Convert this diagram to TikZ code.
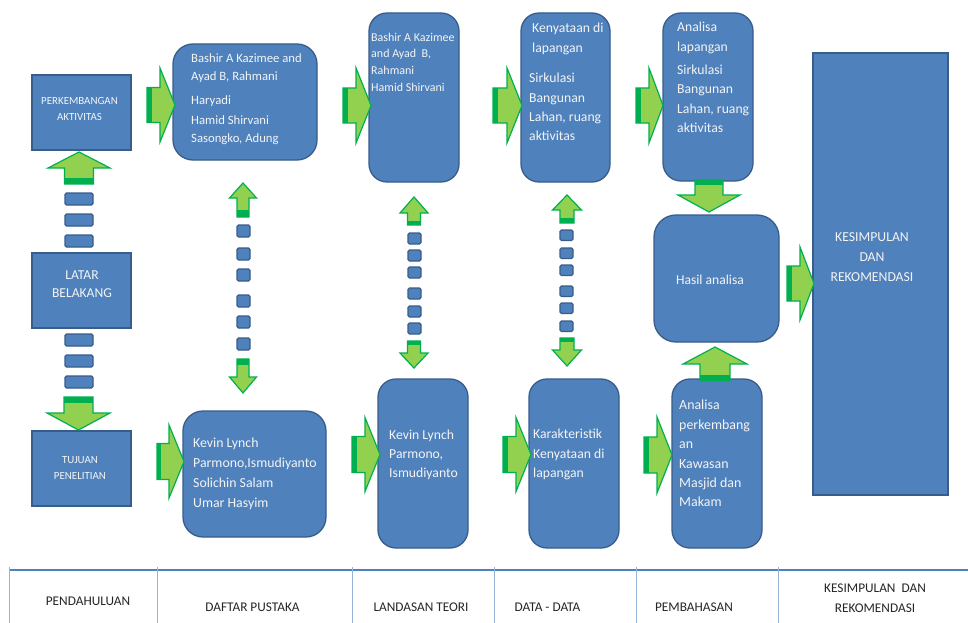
\documentclass[tikz,border=0pt]{standalone}
\usepackage{fontspec}
\setmainfont{Carlito}
\definecolor{boxfill}{HTML}{4F81BD}
\definecolor{boxdraw}{HTML}{385D8A}
\definecolor{gl}{HTML}{92D050}
\definecolor{gd}{HTML}{00B050}
\definecolor{txtw}{HTML}{F4F4F4}
\definecolor{txtd}{HTML}{262626}
\definecolor{hline}{HTML}{4F81BD}
\definecolor{vline}{HTML}{95B3D7}
% block arrow: tail x, tail y, angle, length, head length, head half-width, shaft half-width
\newcommand{\blockarr}[7]{%
  \begin{scope}[shift={(#1,#2)},rotate=#3]
    \filldraw[fill=gl,draw=gd,line width=1.2,line join=miter]
      (0,-#7) -- ({#4-#5},-#7) -- ({#4-#5},-#6) -- (#4,0) -- ({#4-#5},#6) -- ({#4-#5},#7) -- (0,#7) -- cycle;
    \fill[gd] (0,-#7) rectangle ({0.35*(#4-#5)},#7);
  \end{scope}}
\tikzset{
  sqbox/.style={draw=boxdraw,fill=boxfill,line width=1.3,inner sep=0},
  rbox/.style={sqbox,rounded corners=18},
  dashbox/.style={draw=boxdraw,fill=boxfill,line width=1.1,rounded corners=1.5},
  wtxt/.style={text=txtw,inner sep=0,align=left,anchor=north west},
  ctxt/.style={text=txtw,inner sep=0,align=center},
  btxt/.style={text=txtd,inner sep=0,align=center,font=\fontsize{13.3}{20}\selectfont},
}
\begin{document}
\begin{tikzpicture}[x=1pt,y=-1pt]
\useasboundingbox[fill=white] (0,0) rectangle (968,623);

% ---------- column 1
\node[sqbox,minimum width=99,minimum height=75] (perk) at (81.5,112.5) {};
\node[ctxt,font=\fontsize{10.9}{16}\selectfont] (perkT) at (79.5,109) {PERKEMBANGAN\\AKTIVITAS};
\node[sqbox,minimum width=99,minimum height=75] (latar) at (81.5,290.5) {};
\node[ctxt,font=\fontsize{13.6}{18}\selectfont] (latarT) at (82,284) {LATAR\\BELAKANG};
\node[sqbox,minimum width=99,minimum height=75] (tujuan) at (81.5,468.5) {};
\node[ctxt,font=\fontsize{10.9}{16}\selectfont] (tujuanT) at (80,468) {TUJUAN\\PENELITIAN};

\foreach \y in {193,214,235,334,355,376}
  \draw[dashbox] (65,\y) rectangle (93,\y+12);
\blockarr{79}{184}{90}{32}{16}{31}{14.5}
\blockarr{78.5}{397}{-90}{33}{17}{31.5}{14.5}

% ---------- column 2
\node[rbox,rounded corners=20,minimum width=144,minimum height=116] (b2t) at (245,102) {};
\node[wtxt,font=\fontsize{12.7}{18}\selectfont] (b2tT) at (191,53)
  {Bashir A Kazimee and\\Ayad B, Rahmani\\[6pt]Haryadi\\[2.5pt]Hamid Shirvani\\Sasongko, Adung};
\node[rbox,rounded corners=20,minimum width=143,minimum height=126] (b2b) at (254.5,474) {};
\node[wtxt,font=\fontsize{13.8}{20}\selectfont] (b2bT) at (193,438)
  {Kevin Lynch\\Parmono,Ismudiyanto\\Solichin Salam\\Umar Hasyim};
\blockarr{147}{105}{0}{28}{15}{37}{17.5}
\blockarr{157}{461.5}{0}{27}{15}{36.5}{18}
\foreach \y in {225,248,269,295,316,338}
  \draw[dashbox] (237,\y) rectangle (250,\y+12);
\blockarr{243}{217}{90}{34}{15}{13.5}{6}
\blockarr{243}{359}{-90}{34}{16}{13.5}{6}

% ---------- column 3
\node[rbox,minimum width=90,minimum height=169] (b3t) at (414,97.5) {};
\node[wtxt,font=\fontsize{12}{16.7}\selectfont] (b3tT) at (371,32.5)
  {Bashir A Kazimee\\and Ayad\ \ B,\\Rahmani\\Hamid Shirvani};
\node[rbox,minimum width=90,minimum height=169] (b3b) at (423,463.5) {};
\node[wtxt,font=\fontsize{13.7}{19}\selectfont] (b3bT) at (389,430)
  {Kevin Lynch\\Parmono,\\Ismudiyanto};
\blockarr{343}{105.5}{0}{28}{15}{37.5}{17.5}
\blockarr{352}{454.5}{0}{28}{15}{37}{18}
\foreach \y in {233,250,267,288,306,323}
  \draw[dashbox] (408,\y) rectangle (421,\y+11);
\blockarr{414}{225}{90}{28}{16}{14}{6.5}
\blockarr{414}{341}{-90}{27}{15}{14}{6.5}

% ---------- column 4
\node[rbox,minimum width=89,minimum height=169] (b4t) at (565.5,97.5) {};
\node[wtxt,font=\fontsize{13.7}{20}\selectfont] (b4tA) at (532,23)
  {Kenyataan di\\lapangan};
\node[wtxt,font=\fontsize{13.7}{19.4}\selectfont] (b4tB) at (529,73)
  {Sirkulasi\\Bangunan\\Lahan, ruang\\aktivitas};
\node[rbox,minimum width=90,minimum height=169] (b4b) at (574,463.5) {};
\node[wtxt,font=\fontsize{13.7}{19.5}\selectfont] (b4bT) at (533,429)
  {Karakteristik\\Kenyataan di\\lapangan};
\blockarr{493}{105.5}{0}{29}{15}{37.5}{17.5}
\blockarr{503}{454.5}{0}{28}{15}{37}{18}
\foreach \y in {230,248,265,286,303,321}
  \draw[dashbox] (560,\y) rectangle (573,\y+10.5);
\blockarr{567}{223}{90}{28}{15}{14.5}{7}
\blockarr{567}{338}{-90}{28}{16}{14.5}{7}

% ---------- column 5
\node[rbox,minimum width=90,minimum height=168] (b5t) at (708,97) {};
\node[wtxt,font=\fontsize{13.7}{19.5}\selectfont] (b5tT) at (677,22)
  {Analisa\\lapangan\\[3.5pt]Sirkulasi\\Bangunan\\Lahan, ruang\\aktivitas};
\node[rbox,rounded corners=22,minimum width=125,minimum height=127] (hasil) at (716.5,278.5) {};
\node[ctxt,font=\fontsize{13.6}{18}\selectfont] (hasilT) at (710,280) {Hasil analisa};
\node[rbox,minimum width=90,minimum height=169] (b5b) at (717,463.5) {};
\node[wtxt,font=\fontsize{13.9}{19.4}\selectfont] (b5bT) at (679,400)
  {Analisa\\perkembang\\an\\Kawasan\\Masjid dan\\Makam};
\blockarr{636}{105.5}{0}{27}{14}{37.5}{17.5}
\blockarr{644}{455}{0}{28}{15}{38}{18}
\blockarr{709}{180}{-90}{32}{17}{31}{14}
\blockarr{715}{381}{90}{34}{17}{32}{15}

% ---------- conclusion
\node[sqbox,minimum width=135,minimum height=442] (kes) at (880.5,274) {};
\node[ctxt,font=\fontsize{13.7}{20}\selectfont] (kesT) at (872,257) {KESIMPULAN\\DAN\\REKOMENDASI};
\blockarr{787}{283.5}{0}{27}{14}{36.5}{17.5}

% ---------- bottom table
\coordinate (hl) at (9,570);
\coordinate (hr) at (968,570);
\draw[hline,line width=1.2] (hl) -- (hr);
\foreach \x in {9,157,352,494,636,778}
  \draw[vline,line width=1] (\x,567) -- (\x,623);
\node[btxt] (l1) at (88,601) {PENDAHULUAN};
\node[btxt] (l2) at (252.5,607) {DAFTAR PUSTAKA};
\node[btxt] (l3) at (421,607) {LANDASAN TEORI};
\node[btxt] (l4) at (547.5,607) {DATA - DATA};
\node[btxt] (l5) at (694,607) {PEMBAHASAN};
\node[btxt] (l6) at (875,598) {KESIMPULAN\ \ DAN\\REKOMENDASI};
\end{tikzpicture}
\end{document}
